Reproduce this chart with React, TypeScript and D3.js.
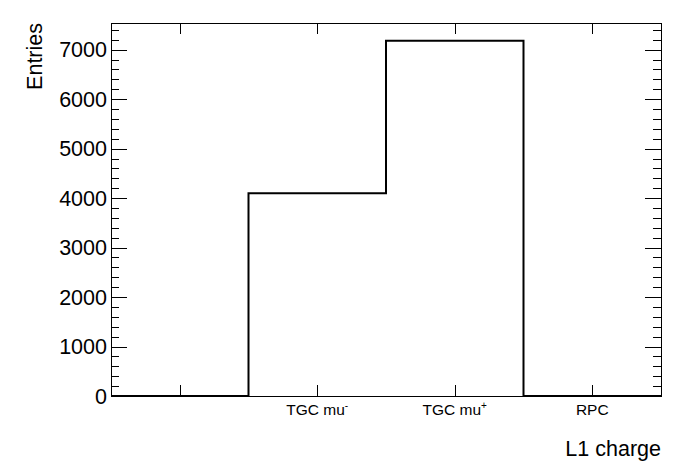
import React, { useRef, useEffect } from 'react';
import { select, scaleLinear, range } from 'd3';

// bins of the histogram
const binLabels = ['', 'TGC mu-', 'TGC mu+', 'RPC'];
const binValues = [0, 4100, 7180, 0];
const yTicks = [0, 1000, 2000, 3000, 4000, 5000, 6000, 7000];

const W = 696;
const H = 472;
const frame = { left: 111, right: 661, top: 23, bottom: 396 };
const font = '"Liberation Sans", Arial, Helvetica, sans-serif';

export default function App() {
    const svgRef: { current: SVGSVGElement | null } = useRef(null);

    useEffect(() => {
        const svg = select(svgRef.current as any);
        svg.selectAll('*').remove();

        const ymax = Math.max(...binValues) * 1.05;
        const x = scaleLinear().domain([0, binValues.length]).range([frame.left, frame.right]);
        const y = scaleLinear().domain([0, ymax]).range([frame.bottom, frame.top]);

        // frame
        svg.append('rect')
            .attr('x', frame.left + 0.5)
            .attr('y', frame.top + 0.5)
            .attr('width', frame.right - frame.left)
            .attr('height', frame.bottom - frame.top)
            .attr('fill', 'none')
            .attr('stroke', 'black')
            .attr('stroke-width', 1);

        // histogram outline (step)
        const pts: [number, number][] = [[x(0), y(0)]];
        binValues.forEach((v, i) => {
            pts.push([x(i), y(v)]);
            pts.push([x(i + 1), y(v)]);
        });
        pts.push([x(binValues.length), y(0)]);
        svg.append('path')
            .attr('d', 'M' + pts.map((p) => `${p[0]},${p[1]}`).join('L'))
            .attr('fill', 'none')
            .attr('stroke', 'black')
            .attr('stroke-width', 2);

        // y ticks, both sides, major + minor
        const minor = range(0, ymax, 200).filter((v) => v % 1000 !== 0);
        const tickG = svg.append('g').attr('stroke', 'black').attr('stroke-width', 1);
        yTicks.forEach((v) => {
            const yy = Math.round(y(v)) + 0.5;
            tickG.append('line').attr('x1', frame.left).attr('x2', frame.left + 16).attr('y1', yy).attr('y2', yy);
            tickG.append('line').attr('x1', frame.right - 16).attr('x2', frame.right).attr('y1', yy).attr('y2', yy);
        });
        minor.forEach((v) => {
            const yy = Math.round(y(v)) + 0.5;
            tickG.append('line').attr('x1', frame.left).attr('x2', frame.left + 8).attr('y1', yy).attr('y2', yy);
            tickG.append('line').attr('x1', frame.right - 8).attr('x2', frame.right).attr('y1', yy).attr('y2', yy);
        });

        // x ticks at bin centres
        binLabels.forEach((_, i) => {
            const xx = Math.round(x(i + 0.5)) + 0.5;
            tickG.append('line').attr('x1', xx).attr('x2', xx).attr('y1', frame.bottom).attr('y2', frame.bottom - 11);
            tickG.append('line').attr('x1', xx).attr('x2', xx).attr('y1', frame.top).attr('y2', frame.top + 11);
        });

        // y tick labels
        svg.append('g')
            .selectAll('text')
            .data(yTicks)
            .join('text')
            .attr('x', frame.left - 4)
            .attr('y', (d) => y(d) + 7.5)
            .attr('text-anchor', 'end')
            .attr('font-family', font)
            .attr('font-size', 21.5)
            .text((d) => String(d));

        // bin labels with superscript charge
        binLabels.forEach((lab, i) => {
            if (!lab) return;
            const t = svg.append('text')
                .attr('x', x(i + 0.5))
                .attr('y', 415)
                .attr('text-anchor', 'middle')
                .attr('font-family', font)
                .attr('font-size', 15.5);
            const sign = lab.slice(-1);
            if (sign === '+' || sign === '-') {
                t.append('tspan').text(lab.slice(0, -1));
                t.append('tspan').attr('font-size', 10).attr('dy', -6).text(sign);
            } else {
                t.text(lab);
            }
        });

        // axis titles
        svg.append('text')
            .attr('x', frame.right)
            .attr('y', 456)
            .attr('text-anchor', 'end')
            .attr('font-family', font)
            .attr('font-size', 21.5)
            .text('L1 charge');
        svg.append('text')
            .attr('transform', `translate(42,${frame.top}) rotate(-90)`)
            .attr('text-anchor', 'end')
            .attr('font-family', font)
            .attr('font-size', 21.5)
            .text('Entries');
    }, []);

    return (
        <svg
            ref={svgRef}
            width={W}
            height={H}
            style={{ position: 'absolute', left: 0, top: 0, background: 'white' }}
        />
    );
}
